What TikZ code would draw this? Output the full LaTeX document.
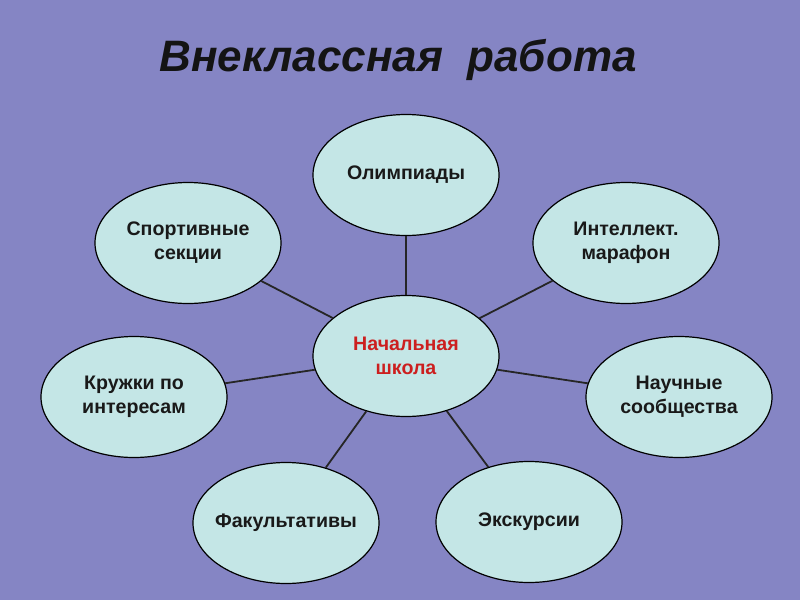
\documentclass[tikz,border=0pt]{standalone}
\usepackage{fontspec}
\setmainfont{Liberation Sans}
\usetikzlibrary{shapes.geometric}
\definecolor{bgc}{HTML}{8585C4}
\definecolor{elfill}{HTML}{C4E6E6}
\definecolor{redtxt}{HTML}{CC1F1F}
\tikzset{
  bubble/.style={ellipse, draw=black, line width=1.2pt, fill=elfill,
    minimum width=186pt, minimum height=121pt, inner ysep=0pt, inner xsep=-20pt,
    align=center, text=black!90,
    font=\fontsize{19.6}{24}\selectfont\bfseries},
  link/.style={draw=black!85, line width=1.8pt}
}
\begin{document}
\begin{tikzpicture}[x=1pt,y=-1pt]
\fill[bgc] (0,0) rectangle (800,600);
\useasboundingbox (0,0) rectangle (800,600);
\node[font=\fontsize{44}{48}\selectfont\bfseries\itshape, text=black!92] (title) at (398,60) {Внеклассная\ \ работа};
\node[bubble, text=redtxt] (c) at (406,356) {Начальная\\школа};
\node[bubble] (o) at (406,175) {Олимпиады};
\node[bubble] (s) at (188,243) {Спортивные\\секции};
\node[bubble] (m) at (626,243) {Интеллект.\\марафон};
\node[bubble] (k) at (134,397) {Кружки по\\интересам};
\node[bubble] (n) at (679,397) {Научные\\сообщества};
\node[bubble] (f) at (286,523) {Факультативы};
\node[bubble] (e) at (529,522) {Экскурсии};
\foreach \t in {o,s,m,k,n,f,e} \draw[link] (c) -- (\t);
\end{tikzpicture}
\end{document}
